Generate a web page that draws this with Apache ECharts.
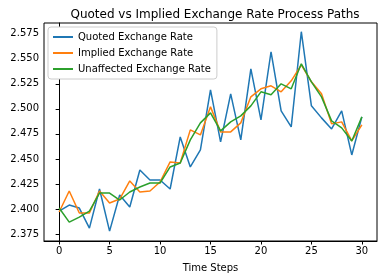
<!DOCTYPE html>
<html><head><meta charset="utf-8">
<script src="https://cdn.jsdelivr.net/npm/echarts@6/dist/echarts.min.js"></script>
<style>html,body{margin:0;padding:0;background:#fff}#c{width:384px;height:278px}</style>
</head><body><div id="c"></div>
<script>
const steps = Array.from({length: 31}, (_, i) => i);
const quoted = [2.398, 2.404, 2.401, 2.381, 2.420, 2.378, 2.414, 2.402, 2.439, 2.429, 2.429, 2.420, 2.472, 2.442, 2.459, 2.519, 2.467, 2.515, 2.469, 2.540, 2.489, 2.557, 2.498, 2.482, 2.577, 2.503, 2.491, 2.480, 2.498, 2.454, 2.492];
const implied = [2.397, 2.418, 2.396, 2.396, 2.418, 2.406, 2.410, 2.428, 2.417, 2.418, 2.427, 2.447, 2.446, 2.479, 2.474, 2.502, 2.477, 2.477, 2.486, 2.512, 2.520, 2.523, 2.517, 2.528, 2.544, 2.527, 2.515, 2.485, 2.487, 2.468, 2.484];
const unaffected = [2.401, 2.387, 2.392, 2.398, 2.416, 2.416, 2.409, 2.417, 2.422, 2.426, 2.426, 2.442, 2.446, 2.469, 2.486, 2.496, 2.478, 2.487, 2.493, 2.503, 2.517, 2.514, 2.525, 2.520, 2.545, 2.527, 2.512, 2.488, 2.481, 2.468, 2.492];
const xTicks = [0, 5, 10, 15, 20, 25, 30];
const yTicks = [2.375, 2.400, 2.425, 2.450, 2.475, 2.500, 2.525, 2.550, 2.575];
const names = ['Quoted Exchange Rate', 'Implied Exchange Rate', 'Unaffected Exchange Rate'];
const colors = ['#1f77b4', '#ff7f0e', '#2ca02c'];
const font = 'DejaVu Sans';
const chart = echarts.init(document.getElementById('c'), null, {renderer: 'canvas'});
const mk = (name, vals, col) => ({
  name, type: 'line', data: steps.map((s, i) => [s, vals[i]]),
  showSymbol: false, symbol: 'none', lineStyle: {color: col, width: 1.5}, itemStyle: {color: col},
  animation: false
});
chart.setOption({
  animation: false,
  title: {text: 'Quoted vs Implied Exchange Rate Process Paths', left: 210, textAlign: 'center', top: 4,
    textStyle: {fontFamily: font, fontSize: 12, fontWeight: 'normal', color: '#000'}},
  grid: {left: 44, right: 7, top: 23, bottom: 37, show: true, borderColor: '#000', borderWidth: 1},
  legend: {orient: 'vertical', left: 48, top: 27, icon: 'rect', itemWidth: 20, itemHeight: 2, itemGap: 6,
    padding: [5, 6, 5, 5], backgroundColor: '#fff', borderColor: '#ccc', borderWidth: 1, borderRadius: 3,
    textStyle: {fontFamily: font, fontSize: 10, color: '#000'}, data: names},
  xAxis: {type: 'value', min: -1.5, max: 31.5, name: 'Time Steps', nameLocation: 'middle', nameGap: 22,
    nameTextStyle: {fontFamily: font, fontSize: 10, color: '#000'},
    splitLine: {show: false},
    axisLine: {show: true, lineStyle: {color: '#000'}},
    axisTick: {show: true, length: 3.5, lineStyle: {color: '#000'}, customValues: xTicks},
    axisLabel: {customValues: xTicks, fontFamily: font, fontSize: 10, color: '#000', margin: 5}},
  yAxis: {type: 'value', min: 2.3681, max: 2.5857,
    splitLine: {show: false},
    axisLine: {show: true, lineStyle: {color: '#000'}},
    axisTick: {show: true, length: 3.5, lineStyle: {color: '#000'}, customValues: yTicks},
    axisLabel: {customValues: yTicks, formatter: v => v.toFixed(3), fontFamily: font, fontSize: 10, color: '#000', margin: 5}},
  series: [mk(names[0], quoted, colors[0]), mk(names[1], implied, colors[1]), mk(names[2], unaffected, colors[2])]
});
</script></body></html>
